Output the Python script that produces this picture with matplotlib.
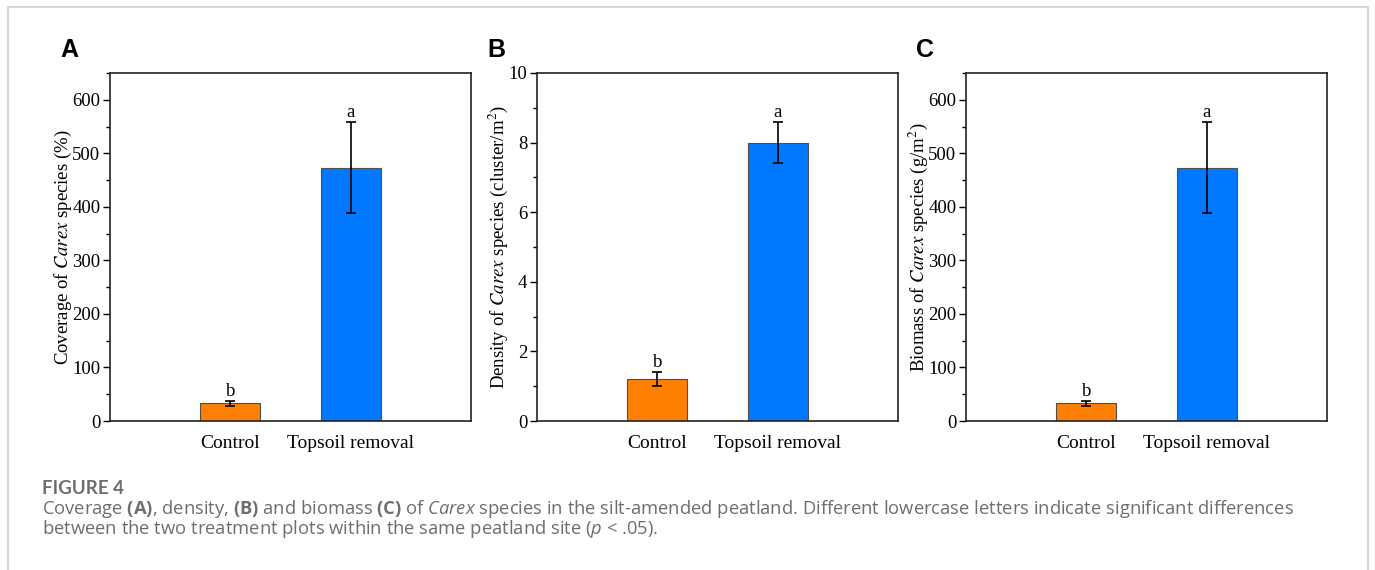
import numpy as np
import matplotlib
matplotlib.use("Agg")
import matplotlib.pyplot as plt
from matplotlib.ticker import MultipleLocator
from matplotlib.patches import Rectangle

# dados
categorias = ["Control", "Topsoil removal"]
letras = ["b", "a"]
cobertura = [33, 473]
cobertura_err = [4.5, 85]
densidade = [1.2, 8.0]
densidade_err = [0.2, 0.58]
biomassa = [33, 473]
biomassa_err = [4.5, 85]
cores = ["#FF7F00", "#0078FF"]

W, H = 1375, 570
plt.rcParams['font.family'] = ['Liberation Serif', 'DejaVu Serif']
# mathtext "custom" fica para a legenda (sans); os eixos usam stix (tipo Times)
plt.rcParams['mathtext.fontset'] = 'custom'
plt.rcParams['mathtext.rm'] = 'Open Sans'
plt.rcParams['mathtext.it'] = 'Open Sans:italic'
plt.rcParams['mathtext.bf'] = 'Open Sans:bold'

fig = plt.figure(figsize=(W / 100, H / 100), dpi=100)

# moldura cinza clara
fig.patches.append(Rectangle((8 / W, -0.1), 1360 / W, (H - 7) / H + 0.1,
                             transform=fig.transFigure, fill=False,
                             edgecolor="#d9d9d9", linewidth=1.5))


def painel(left_px, valores, erros, ylim, major, minor, ylabel, letra):
    ax = fig.add_axes([left_px / W, (H - 421) / H, 361 / W, 348 / H])
    x = np.arange(1, len(categorias) + 1)
    ax.bar(x, valores, width=0.5, color=cores, edgecolor="#505050", linewidth=0.8, zorder=2)
    ax.errorbar(x, valores, yerr=erros, fmt="none", ecolor="black",
                elinewidth=1.2, capsize=3.5, capthick=1.2, zorder=3)
    for xi, v, e, l in zip(x, valores, erros, letras):
        ax.text(xi, v + e + ylim * 0.004, l, ha="center", va="bottom", fontsize=13.5)
    ax.set_xlim(0, 3)
    ax.set_ylim(0, ylim)
    ax.set_xticks(x)
    ax.set_xticklabels(categorias, fontsize=14)
    ax.tick_params(axis="x", length=0, pad=10)
    ax.yaxis.set_major_locator(MultipleLocator(major))
    ax.yaxis.set_minor_locator(MultipleLocator(minor))
    ax.tick_params(axis="y", which="major", direction="out", length=5, width=1, labelsize=13.5, pad=2)
    ax.tick_params(axis="y", which="minor", direction="out", length=3, width=1)
    for s in ax.spines.values():
        s.set_linewidth(1.2)
        s.set_color("#222222")
    ax.set_ylabel(ylabel, fontsize=13.5, labelpad=-1, math_fontfamily="stix")
    fig.text((left_px - 50) / W, 1 - 57 / H, letra, fontsize=18, fontweight="bold",
             family="Liberation Sans", ha="left", va="baseline")
    return ax


painel(110, cobertura, cobertura_err, 650, 100, 50,
       r"Coverage of $\mathit{Carex}$ species (%)", "A")
painel(537, densidade, densidade_err, 10, 2, 1,
       r"Density of $\mathit{Carex}$ species (cluster/m$^{2}$)", "B")
painel(966, biomassa, biomassa_err, 650, 100, 50,
       r"Biomass of $\mathit{Carex}$ species (g/m$^{2}$)", "C")

# legenda da figura
renderer = fig.canvas.get_renderer()
cinza = "#6e6e6e"

linha1 = (r"Coverage $\mathbf{(A)}$, density, $\mathbf{(B)}$ and biomass $\mathbf{(C)}$ of "
          r"$\mathit{Carex}$ species in the silt-amended peatland. Different lowercase letters "
          r"indicate significant differences")
linha2 = r"between the two treatment plots within the same peatland site ($\mathit{p}$ < .05)."

# tamanho da fonte ajustado para a largura da linha original (~1253 px)
teste = fig.text(0, 0, linha1, fontsize=12, family=["Open Sans", "DejaVu Sans"])
largura = teste.get_window_extent(renderer).width
teste.remove()
tam = 12 * 1253 / largura

fig.text(42 / W, 1 - 494 / H, "FIGURE 4", fontsize=13.5, fontweight="bold",
         family=["Lato", "DejaVu Sans"], color=cinza, ha="left", va="baseline")
# com va='baseline' o texto de varias linhas fica ancorado na ultima linha
fig.text(42 / W, 1 - 534 / H, linha1 + "\n" + linha2, fontsize=tam, color=cinza,
         family=["Open Sans", "DejaVu Sans"], ha="left", va="baseline", linespacing=0.87)

fig.savefig("out.png", dpi=100)
